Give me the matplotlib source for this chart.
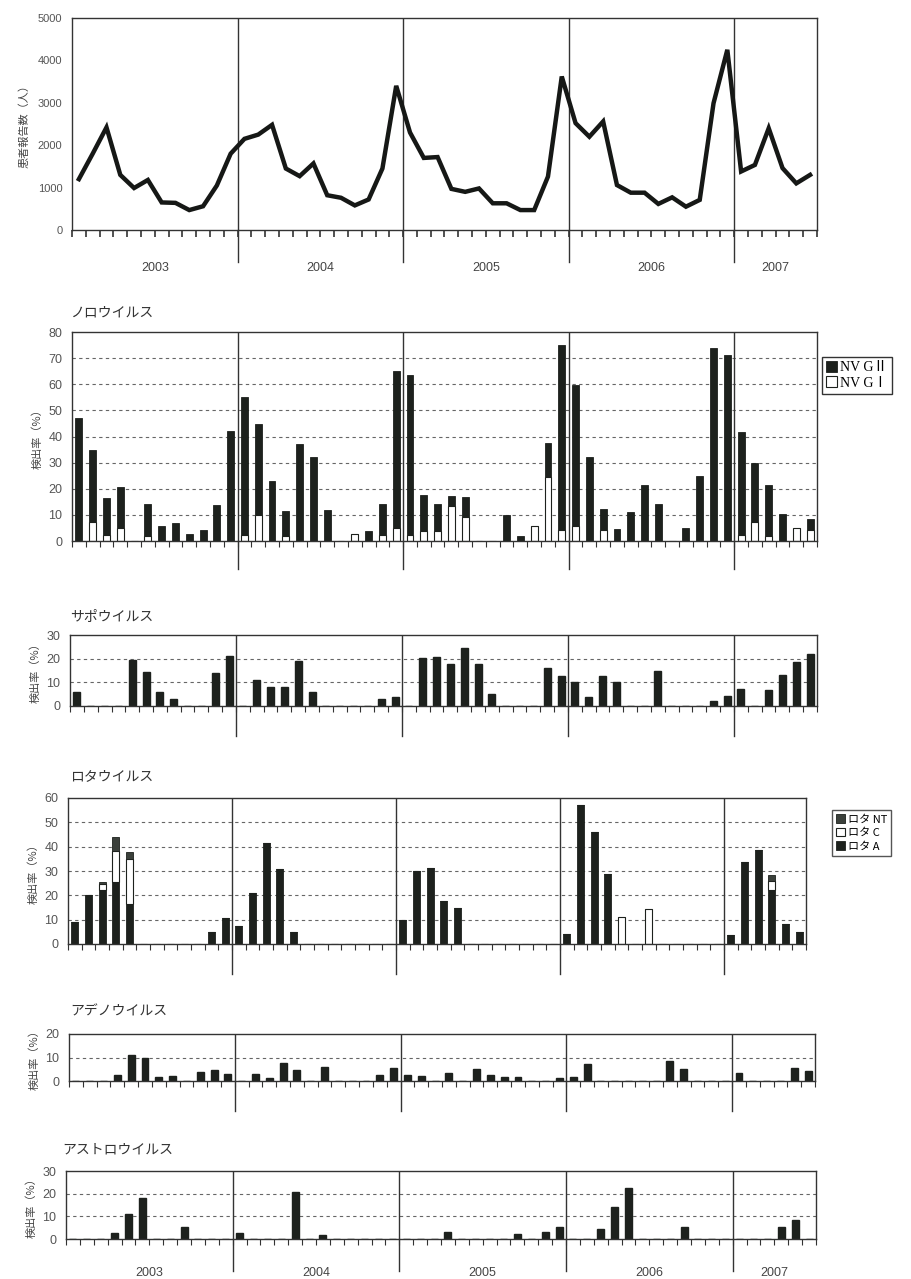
import matplotlib
matplotlib.use('Agg')
import matplotlib.pyplot as plt
import numpy as np

plt.rcParams['font.family'] = ['Liberation Sans', 'Noto Sans CJK JP']

# 2003/1 - 2007/6, monthly
years = ['2003', '2004', '2005', '2006', '2007']
year_edges = [12, 24, 36, 48]
year_mid = [6, 18, 30, 42, 51]

patients = [1200, 1800, 2420, 1300, 990, 1180, 650, 640, 470, 560, 1050, 1800,
            2150, 2250, 2480, 1450, 1270, 1570, 820, 760, 580, 720, 1450, 3400,
            2300, 1700, 1720, 970, 900, 980, 630, 630, 470, 470, 1260, 3620,
            2520, 2200, 2560, 1060, 880, 880, 615, 770, 550, 710, 2990, 4250,
            1380, 1535, 2400, 1460, 1100, 1300]

nv_g1 = [0, 7.3, 2.4, 5, 0, 1.8, 0, 0, 0, 0, 0, 0,
         2.3, 9.9, 0, 1.8, 0, 0, 0, 0, 2.6, 0, 2.2, 5,
         2.2, 3.7, 3.7, 13.3, 9.2, 0, 0, 0, 0, 5.6, 24.6, 4.1,
         5.8, 0, 4.1, 0, 0, 0, 0, 0, 0, 0, 0, 0,
         2.4, 7.3, 1.8, 0, 5.1, 4.1]
nv_g2 = [47, 27.7, 14.2, 15.5, 0, 12.2, 5.6, 7, 2.6, 4.1, 13.7, 42.1,
         52.7, 34.8, 23, 9.7, 37.1, 32, 12, 0, 0, 3.8, 12.1, 60,
         61.4, 13.8, 10.6, 3.9, 7.7, 0, 0, 9.9, 1.9, 0, 12.8, 70.8,
         54, 32, 8.3, 4.7, 11.1, 21.4, 14.1, 0, 5.1, 25, 73.9, 71.3,
         39.2, 22.4, 19.5, 10.2, 0, 4.5]

sapo = [6, 0, 0, 0, 19.4, 14.2, 6, 2.8, 0, 0, 13.8, 21.3,
        0, 11, 8.2, 7.9, 19, 6, 0, 0, 0, 0, 2.8, 3.9,
        0, 20.1, 20.5, 17.6, 24.6, 17.7, 4.9, 0, 0, 0, 15.9, 12.7,
        10.3, 3.9, 12.7, 10, 0, 0, 14.8, 0, 0, 0, 2.1, 4.2,
        7, 0, 6.8, 13.1, 18.7, 22]

rota_a = [8.9, 20.2, 22, 25.6, 16.5, 0, 0, 0, 0, 0, 4.8, 10.6,
          7.6, 21.1, 41.7, 30.7, 4.8, 0, 0, 0, 0, 0, 0, 0,
          10, 30, 31.1, 17.5, 15, 0, 0, 0, 0, 0, 0, 0,
          4.2, 57.3, 46.1, 28.6, 0, 0, 0, 0, 0, 0, 0, 0,
          3.5, 33.6, 38.6, 22, 8.3, 4.8]
rota_c = [0, 0, 2.5, 12.7, 18.3, 0, 0, 0, 0, 0, 0, 0,
          0, 0, 0, 0, 0, 0, 0, 0, 0, 0, 0, 0,
          0, 0, 0, 0, 0, 0, 0, 0, 0, 0, 0, 0,
          0, 0, 0, 0, 11.3, 0, 14.5, 0, 0, 0, 0, 0,
          0, 0, 0, 4, 0, 0]
rota_nt = [0, 0, 1, 5.5, 3, 0, 0, 0, 0, 0, 0, 0,
           0, 0, 0, 0, 0, 0, 0, 0, 0, 0, 0, 0,
           0, 0, 0, 0, 0, 0, 0, 0, 0, 0, 0, 0,
           0, 0, 0, 0, 0, 0, 0, 0, 0, 0, 0, 0,
           0, 0, 0, 2.4, 0, 0]

adeno = [0, 0, 0, 2.6, 11.1, 10, 1.9, 2.1, 0, 4, 4.7, 2.9,
         0, 2.9, 1.4, 7.6, 4.7, 0, 6.1, 0, 0, 0, 2.6, 5.4,
         2.6, 2.1, 0, 3.6, 0, 5, 2.4, 1.9, 1.9, 0, 0, 1.4,
         1.9, 7.3, 0, 0, 0, 0, 0, 8.3, 5.1, 0, 0, 0,
         3.3, 0, 0, 0, 5.4, 4.4]

astro = [0, 0, 0, 2.6, 10.9, 17.9, 0, 0, 5.5, 0, 0, 0,
         2.6, 0, 0, 0, 20.8, 0, 1.9, 0, 0, 0, 0, 0,
         0, 0, 0, 3.3, 0, 0, 0, 0, 2.2, 0, 3, 5.5,
         0, 0, 4.4, 14.3, 22.3, 0, 0, 0, 5.5, 0, 0, 0,
         0, 0, 0, 5.5, 8.2, 0]

W, H = 912, 1279
fig = plt.figure(figsize=(W / 100, H / 100), dpi=100)
dark = '#1d211d'
x = np.arange(54) + 0.5


def add_ax(l, t, r, b):
    return fig.add_axes([l / W, 1 - b / H, (r - l) / W, (b - t) / H])


def style(ax, ymax, step, h_px, ext_px, grid=True):
    ax.set_xlim(0, 54)
    ax.set_ylim(0, ymax)
    ax.set_yticks(range(0, ymax + 1, step))
    if grid:
        for yv in range(step, ymax, step):
            ax.axhline(yv, color='#666', ls=(0, (3, 3)), lw=0.8, zorder=0)
    ax.set_xticks(np.arange(0, 55))
    ax.set_xticklabels([])
    ax.tick_params(axis='x', direction='out', length=4, width=0.8, color='#333')
    ax.tick_params(axis='y', length=0, pad=7, labelsize=9, labelcolor='#555')
    for s in ax.spines.values():
        s.set_color('#333')
        s.set_linewidth(1)
    for e in year_edges:
        ax.axvline(e, color='#333', lw=1, zorder=1)
        ax.plot([e, e], [0, -ext_px / h_px], transform=ax.get_xaxis_transform(),
                clip_on=False, color='#333', lw=1)


def title(txt, xp, yp):
    fig.text(xp / W, 1 - yp / H, txt, fontsize=10, color='#333', va='center', ha='left',
             family=['Noto Sans CJK JP', 'DejaVu Sans'])


def year_labels(ax, h_px, off_px):
    for yl, xm in zip(years, year_mid):
        ax.text(xm, -off_px / h_px, yl, transform=ax.get_xaxis_transform(),
                ha='center', va='center', fontsize=9, color='#444')


ylab = dict(fontsize=8, color='#444', family=['Noto Sans CJK JP', 'DejaVu Sans'])

# patients
ax0 = add_ax(72, 18, 817, 230)
style(ax0, 5000, 1000, 212, 32, grid=False)
ax0.tick_params(axis='y', labelsize=8)
ax0.tick_params(axis='x', length=5, width=1.2)
ax0.plot(x, patients, color='#161816', lw=3.2, solid_joinstyle='miter')
ax0.set_ylabel('患者報告数（人）', labelpad=6, **ylab)
year_labels(ax0, 212, 38)

# norovirus
ax1 = add_ax(72, 332, 817, 541)
style(ax1, 80, 10, 209, 28)
b2 = ax1.bar(x, nv_g2, 0.5, bottom=nv_g1, color=dark, edgecolor=dark, lw=0.6, zorder=2)
b1 = ax1.bar(x, nv_g1, 0.5, color='white', edgecolor=dark, lw=0.8, zorder=2)
ax1.set_ylabel('検出率（%）', labelpad=4, **ylab)
ax1.legend([b2, b1], ['NV GⅡ', 'NV GⅠ'], loc='upper left', bbox_to_anchor=(1.007, 0.88),
           borderaxespad=0, fancybox=False, edgecolor='#333', framealpha=1,
           handlelength=0.8, handleheight=0.8, handletextpad=0.2, borderpad=0.3,
           labelspacing=0.15, prop={'family': ['Liberation Serif', 'Noto Sans CJK JP'], 'size': 10})
title('ノロウイルス', 70, 313)

# sapovirus
ax2 = add_ax(70, 635, 817, 706)
style(ax2, 30, 10, 71, 30)
ax2.bar(x, sapo, 0.5, color=dark, edgecolor=dark, zorder=2)
ax2.set_ylabel('検出率（%）', labelpad=4, **ylab)
title('サポウイルス', 70, 617)

# rotavirus
ax3 = add_ax(68, 798, 806, 944)
style(ax3, 60, 10, 146, 30)
ra = ax3.bar(x, rota_a, 0.5, color=dark, edgecolor=dark, lw=0.6, zorder=2)
bot = np.array(rota_a)
rc = ax3.bar(x, rota_c, 0.5, bottom=bot, color='white', edgecolor=dark, lw=0.8, zorder=2)
bot = bot + np.array(rota_c)
rn = ax3.bar(x, rota_nt, 0.5, bottom=bot, color='#3b403b', edgecolor=dark, lw=0.6, zorder=2)
ax3.set_ylabel('検出率（%）', labelpad=4, **ylab)
ax3.legend([rn, rc, ra], ['ロタ NT', 'ロタ C', 'ロタ A'], loc='upper left',
           bbox_to_anchor=((832 - 68) / 738, (944 - 810) / 146), borderaxespad=0,
           fancybox=False, edgecolor='#555', framealpha=1, handlelength=0.8, handleheight=0.8,
           handletextpad=0.2, borderpad=0.4, labelspacing=0.3,
           prop={'family': ['Noto Sans CJK JP'], 'size': 8})
title('ロタウイルス', 70, 776)

# adenovirus
ax4 = add_ax(69, 1034, 815, 1081)
style(ax4, 20, 10, 47, 30)
ax4.bar(x, adeno, 0.5, color=dark, edgecolor=dark, zorder=2)
ax4.set_ylabel('検出率（%）', labelpad=4, **ylab)
title('アデノウイルス', 70, 1012)

# astrovirus
ax5 = add_ax(66, 1171, 816, 1239)
style(ax5, 30, 10, 68, 32)
ax5.bar(x, astro, 0.5, color=dark, edgecolor=dark, zorder=2)
ax5.set_ylabel('検出率（%）', labelpad=4, **ylab)
year_labels(ax5, 68, 34)
title('アストロウイルス', 62, 1150)

fig.savefig('out.png', dpi=100)
